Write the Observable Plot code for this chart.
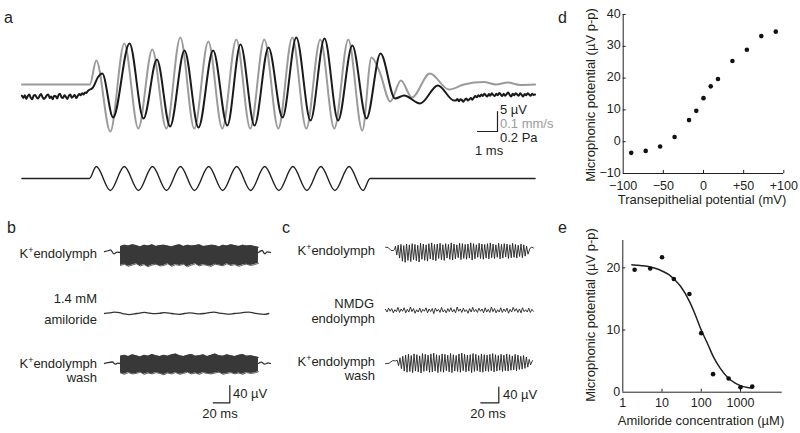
<!DOCTYPE html>
<html><head><meta charset="utf-8">
<script src="https://cdn.jsdelivr.net/npm/d3@7"></script>
<script src="https://cdn.jsdelivr.net/npm/@observablehq/plot@0.6"></script>
<style>
html,body{margin:0;padding:0;background:#fff;}
#fig{position:relative;width:800px;height:433px;overflow:hidden;font-family:"Liberation Sans",Arial,Helvetica,sans-serif;color:#231f20;}
#fig svg{position:absolute;left:0;top:0;overflow:visible;}
.t{position:absolute;white-space:nowrap;line-height:1;font-size:13px;}
.lt{transform:translateY(-50%);}
.rt{transform:translate(-100%,-50%);}
.ct{transform:translate(-50%,-50%);}
.rot{transform:translate(-50%,-50%) rotate(-90deg);}
.pl{font-size:16px;}
sup{font-size:9px;line-height:0;vertical-align:5px;}
</style></head><body><div id="fig"></div>
<script>
// ---------------- DATA ----------------
// Panel a: stimulus (Pa), stapes velocity (mm/s), microphonic (µV); time in ms
const aStimT = [0, 3.37, 3.72, 4.42, 5.12, 5.83, 6.53, 7.23, 7.93, 8.63, 9.34, 10.04, 10.74, 11.44, 12.14, 12.85, 13.55, 14.25, 14.95, 15.65, 16.36, 17.06, 17.41, 25.66];
const aStimPa = [0, 0, 0.12, -0.12, 0.12, -0.12, 0.12, -0.12, 0.12, -0.12, 0.12, -0.12, 0.12, -0.12, 0.12, -0.12, 0.12, -0.12, 0.12, -0.12, 0.12, -0.12, 0, 0];

const aVelT = [0, 3.40, 3.72, 4.42, 5.12, 5.82, 6.52, 7.22, 7.92, 8.62, 9.32, 10.02, 10.72, 11.42, 12.12, 12.82, 13.52, 14.22, 14.92, 15.62, 16.32, 17.02, 17.48, 17.88, 18.42, 18.95, 19.5, 20.4, 21.35, 22.1, 23.1, 23.7, 24.3, 24.9, 25.66];
const aVel = [0, 0, 0.12, -0.235, 0.205, -0.22, 0.175, -0.22, 0.235, -0.22, 0.215, -0.22, 0.225, -0.22, 0.225, -0.22, 0.235, -0.22, 0.225, -0.22, 0.225, -0.23, 0.135, 0.065, -0.085, 0.02, -0.065, 0.055, -0.025, 0.0, 0.012, 0.0, 0.01, -0.002, 0.0];

const aMicPre = [0.2,-0.4,0.3,-0.6,0.1,0.5,-0.3,-0.7,0.2,0.4,-0.2,-0.5,0.1,0.6,-0.1,-0.6,-0.3,0.3,0.5,-0.4,0.0,-0.7,0.2,0.1,-0.5,0.4,0.7,-0.2,-0.4,0.3,-0.1,-0.6,0.2,0.5,-0.3,0.0,0.4,-0.4,0.1,0.6,0.3,0.8,0.5,1.0,0.9,1.4];
const aMicT = [3.55, 3.8, 4.02, 4.56, 5.38, 6.08, 6.75, 7.41, 8.13, 8.83, 9.56, 10.27, 10.93, 11.63, 12.33, 13.03, 13.72, 14.43, 15.13, 15.81, 16.52, 17.23, 17.93, 18.66, 19.11, 19.91, 20.8, 21.61];
const aMicV = [2.2, 4.8, 5.75, -5.25, 13.25, -5.5, 9.25, -7.5, 11.5, -7.75, 11.5, -7.25, 13, -7.25, 12.25, -5.25, 14.75, -6, 14.5, -6, 12.75, -5.5, 10.75, -0.5, 0.25, -1.75, 2.75, -1];
const aMicPost = [-1.0,-0.6,-1.2,-0.7,-0.9,-1.3,-0.8,-0.5,-1.0,-0.7,-0.4,-0.8,-0.3,0.1,-0.2,0.3,0.0,0.5,0.1,0.7,0.3,0.0,0.6,0.2,0.8,0.4,0.1,0.7,0.3,0.9,0.5,0.1,0.7,0.2,0.6,1.0,0.4,0.0,0.7,0.3,0.8,0.5,0.2,0.8,0.4,0.0,0.6,0.3,0.8,0.5,0.2,0.7,0.4,0.5];

// Panel b (ms, µV)
const b1PreT = [0, 5.2, 7.2, 11.2, 15.3, 19.3];
const b1PreV = [2, 4.6, 6.2, -3, 0.7, 0];
const b1Up = [14,17,15,18,16,13,17,15,18,14,16,17,15,13,16,18,14,17,15,16,18,14,15,17,16,13,17,15,18,16,14,17,15,16,14,12];
const b1Dn = [30,27,32,29,26,31,28,33,29,27,31,30,26,32,28,30,27,33,29,26,31,28,30,32,27,29,31,26,30,28,32,29,27,30,28,25];
const b1PostT = [185.5, 190, 193, 196, 200];
const b1PostV = [0, 4.6, -3, 1.5, 0];
const b2V = [0,1.5,3,2,-1,-2.5,-1,1,2.5,1,-0.5,0.5,2,1,-1,-2,0,1.5,0.5,-1,0,2,3,1,-0.5,-1.5,0,1,2.5,3,1,-1,-2,0];
const b3PreT = [0, 4, 9.6, 13, 16, 19.3];
const b3PreV = [0, 2, 3.5, -1.5, 1, 0];
const b3Up = [17,19,16,20,18,15,19,17,21,18,16,19,17,20,22,18,16,19,21,17,18,20,16,19,22,18,17,20,18,16,19,21,17,18,16,14];
const b3Dn = [22,25,21,24,23,20,25,22,24,21,23,26,22,24,21,25,23,20,24,22,25,21,23,24,22,20,25,23,21,24,22,25,21,23,22,19];
const b3PostT = [185.5, 189, 193, 197, 200];
const b3PostV = [0, 3, -1.5, 1.5, 0];

// Panel c (ms, µV)
const c1PreT = [0, 3, 6, 8.5, 10];
const c1PreV = [6, 5, -2, -3, 0];
const c1Up = [8,11,13,10,14,12,15,13,11,16,14,12,15,17,13,14,16,12,15,13,17,14,12,16,15,13,14,17,15,12,16,14,13,15,17,14,12,16,13,15,14,12,16,13,11,14,12,9];
const c1Dn = [14,22,30,33,28,31,26,29,32,25,28,30,24,27,29,23,26,28,22,25,27,24,21,26,23,25,22,27,24,20,23,25,22,24,21,23,20,24,22,19,23,21,20,22,18,21,17,12];
const c1PostT = [160.5, 162.5, 164.4];
const c1PostV = [3, 6, 4];
const c2V = [3,-4,6,-2,5,-6,2,-3,8,-5,4,-2,7,-6,3,-4,9,-3,5,-7,2,-4,6,-5,3,-2,7,-6,4,-3,5,-8,6,-2,3,-5,8,-4,2,-6,5,-3,7,-4,3,-6,9,-2,4,-5,6,-3,2,-7,5,-4,8,-3,3,-5,6,-2,4,-6,7,-4,3,-5,9,-3,5,-6,2,-4,7,-5,4,-3,6,-7,3,-4,8,-2,5,-5,4,-6,7,-3,2,-4,6,-5,3,-2];
const c3PreT = [0, 4, 8, 11];
const c3PreV = [-3, -2, 5, 4];
const c3Up = [6,12,16,19,21,18,22,20,17,23,21,19,22,24,20,18,22,21,19,23,20,18,22,24,21,19,20,23,21,18,22,20,19,21,23,20,18,21,19,22,20,17,21,19,16,18,14,8];
const c3Dn = [8,16,22,25,23,26,22,24,27,23,21,25,24,22,26,23,25,21,24,26,22,23,25,21,24,22,26,23,21,24,25,22,23,21,24,22,20,23,21,22,20,19,21,18,17,15,12,6];
const c3PostT = [163.3];
const c3PostV = [5];

// Panel d
const dVte = [-90,-72,-54,-36,-18,-9,0,9,18,36,54,72,90];
const dMic = [-3.5,-2.9,-1.5,1.5,6.8,9.7,13.7,17.4,19.7,25.4,28.9,33.2,34.6];
const dXTicks = [-100,-50,0,50,100];
const dXTickLabels = ["\u2212100","\u221250","0","+50","+100"];
const dYTicks = [-10,0,10,20,30,40];
const dYTickLabels = ["\u221210","0","10","20","30","40"];

// Panel e
const eConc = [2,5,10,20,50,100,200,500,1000,2000];
const eMic = [19.7,19.9,21.7,18.2,15.8,9.5,2.9,2.2,0.8,0.9];
const eFitC = [1.7,2,3,5,7,10,15,20,30,50,70,100,150,200,300,500,700,1000,1500,2000];
const eFitV = [20.5,20.45,20.35,20.15,19.9,19.5,18.9,18.2,17.0,14.6,12.5,10.0,7.6,5.8,3.9,2.2,1.55,1.05,0.75,0.65];
const eXTicks = [1,10,100,1000];
const eXTickLabels = ["1","10","100","1000"];
const eYTicks = [0,10,20];
const eYTickLabels = ["0","10","20"];

// ---------------- DRAWING ----------------
const FONT = '"Liberation Sans", Arial, Helvetica, sans-serif';
const INK = "#231f20";
const fig = document.getElementById("fig");
const STYLE = {background:"transparent", overflow:"visible", fontFamily:FONT};

function frame(x0, kx, base, ky, marks) {
  return Plot.plot({
    width:800, height:433, marginLeft:0, marginRight:0, marginTop:0, marginBottom:0,
    x:{domain:[-x0/kx, (800-x0)/kx], axis:null},
    y:{domain:[-(433-base)/ky, base/ky], axis:null},
    style:STYLE, marks
  });
}
const zip = (T, V) => T.map((t, i) => ({t, v: V[i]}));
const even = (V, t0, t1) => V.map((v, i) => ({t: t0 + i*(t1-t0)/(V.length-1), v}));
function zigzag(up, dn, t0, t1) {
  const n = up.length + dn.length, out = [];
  for (let i = 0; i < n; i++) {
    const v = i % 2 === 0 ? up[i/2] : -dn[(i-1)/2];
    out.push({t: t0 + i*(t1-t0)/(n-1), v});
  }
  return out;
}
function bar(t, v, dt, dv) {
  return Plot.line([{t:t-dt, v}, {t, v}, {t, v:v+dv}], {x:"t", y:"v", stroke:INK, strokeWidth:1.2});
}

// Panel a
{
  const stim = zip(aStimT, aStimPa).map(d => ({t:d.t, v:-20.5 + 25*d.v}));
  const vel = zip(aVelT, aVel).map(d => ({t:d.t, v:3 + 50*d.v}));
  const mic = [...even(aMicPre, 0, 3.3), ...zip(aMicT, aMicV), ...even(aMicPost, 21.7, 25.66)];
  fig.append(frame(21.4, 20, 96, 4, [
    Plot.line(vel, {x:"t", y:"v", curve:"monotone-x", stroke:"#9b9b9b", strokeWidth:2}),
    Plot.line(mic, {x:"t", y:"v", curve:"monotone-x", stroke:"#1a1a1a", strokeWidth:2}),
    Plot.line(stim, {x:"t", y:"v", curve:"monotone-x", stroke:"#222", strokeWidth:1.4}),
    bar(23.78, -8.75, 1, 5)
  ]));
}

// Panel b
function blockTrace(base, preT, preV, up, dn, postT, postV, extra=[]) {
  const blk = up.map((u, i) => ({t: 19.3 + i*(185.5-19.3)/(up.length-1), up:u, dn:-dn[i]}));
  return frame(104, 0.83, base, 0.4325, [
    Plot.areaY(blk, {x:"t", y1:"dn", y2:"up", fill:"#383838"}),
    Plot.line(blk, {x:"t", y:"up", stroke:"#383838", strokeWidth:0.8}),
    Plot.line(blk, {x:"t", y:"dn", stroke:"#383838", strokeWidth:0.8}),
    Plot.line(zip(preT, preV), {x:"t", y:"v", curve:"monotone-x", stroke:"#333", strokeWidth:1.3}),
    Plot.line(zip(postT, postV), {x:"t", y:"v", curve:"monotone-x", stroke:"#333", strokeWidth:1.3}),
    ...extra
  ]);
}
fig.append(blockTrace(252, b1PreT, b1PreV, b1Up, b1Dn, b1PostT, b1PostV));
fig.append(frame(104, 0.83, 313, 0.4325, [
  Plot.line(even(b2V, 0, 198), {x:"t", y:"v", curve:"monotone-x", stroke:"#333", strokeWidth:1.3})
]));
fig.append(blockTrace(363, b3PreT, b3PreV, b3Up, b3Dn, b3PostT, b3PostV, [bar(151, -90.9, 20, 40)]));

// Panel c
fig.append(frame(385, 0.9, 249, 0.39, [
  Plot.line([...zip(c1PreT, c1PreV), ...zigzag(c1Up, c1Dn, 11, 158.3), ...zip(c1PostT, c1PostV)],
    {x:"t", y:"v", stroke:"#222", strokeWidth:0.9})
]));
fig.append(frame(385, 0.9, 310, 0.39, [
  Plot.line(even(c2V, 0, 164.4), {x:"t", y:"v", stroke:"#222", strokeWidth:0.9})
]));
fig.append(frame(385, 0.9, 362, 0.39, [
  Plot.line([...zip(c3PreT, c3PreV), ...zigzag(c3Up, c3Dn, 13, 161.2), ...zip(c3PostT, c3PostV)],
    {x:"t", y:"v", stroke:"#222", strokeWidth:0.9}),
  bar(125.9, -103.3, 20, 40)
]));

// Panel d
{
  const pts = dVte.map((x, i) => ({x, y: dMic[i]}));
  const xr = dXTicks.map((v, i) => ({v, label: dXTickLabels[i]}));
  const yr = dYTicks.map((v, i) => ({v, label: dYTickLabels[i]}));
  fig.append(Plot.plot({
    width:800, height:433, marginLeft:622.7, marginRight:16.7, marginTop:14, marginBottom:260,
    x:{domain:[-100,100], axis:null}, y:{domain:[-10,40], axis:null}, style:STYLE,
    marks:[
      Plot.ruleX([-100], {stroke:INK}),
      Plot.ruleY([-10], {stroke:INK}),
      Plot.ruleX(dXTicks.slice(1), {x:d=>d, y1:()=>-10, y2:()=>-9.05, stroke:INK}),
      Plot.ruleY(dYTicks.slice(1), {y:d=>d, x1:()=>-100, x2:()=>-96.3, stroke:INK}),
      Plot.text(xr, {x:"v", y:()=>-10, text:"label", dy:12.5, lineAnchor:"middle", fontSize:12.5, fill:INK}),
      Plot.text(yr, {x:()=>-100, y:"v", text:"label", dx:-2.5, dy:-1, textAnchor:"end", lineAnchor:"middle", fontSize:12.5, fill:INK}),
      Plot.dot(pts, {x:"x", y:"y", r:2.3, fill:"#111", stroke:"none"})
    ]
  }));
}

// Panel e
{
  const pts = eConc.map((x, i) => ({x, y: eMic[i]}));
  const fit = eFitC.map((x, i) => ({x, y: eFitV[i]}));
  const xr = eXTicks.map((v, i) => ({v, label: eXTickLabels[i]}));
  const yr = eYTicks.map((v, i) => ({v, label: eYTickLabels[i]}));
  fig.append(Plot.plot({
    width:800, height:433, marginLeft:622.3, marginRight:18.3, marginTop:240, marginBottom:41.3,
    x:{type:"log", domain:[1, 11600], axis:null}, y:{domain:[0, 24.4], axis:null}, style:STYLE,
    marks:[
      Plot.ruleX([1], {stroke:INK}),
      Plot.ruleY([0], {stroke:INK}),
      Plot.ruleX(eXTicks.slice(1), {x:d=>d, y1:()=>0, y2:()=>0.47, stroke:INK}),
      Plot.ruleY(eYTicks.slice(1), {y:d=>d, x1:()=>1, x2:()=>1.19, stroke:INK}),
      Plot.text(xr, {x:"v", y:()=>0, text:"label", dy:11, lineAnchor:"middle", fontSize:12.5, fill:INK}),
      Plot.text(yr, {x:()=>1, y:"v", text:"label", dx:-2.5, textAnchor:"end", lineAnchor:"middle", fontSize:12.5, fill:INK}),
      Plot.line(fit, {x:"x", y:"y", curve:"monotone-x", stroke:INK, strokeWidth:1.5}),
      Plot.dot(pts, {x:"x", y:"y", r:2.3, fill:"#111", stroke:"none"})
    ]
  }));
}

// ---------------- TEXT ----------------
function label(html, x, y, cls, style="") {
  const d = document.createElement("div");
  d.className = "t " + cls;
  d.style.cssText = `left:${x}px;top:${y}px;${style}`;
  d.innerHTML = html;
  fig.append(d);
}
const Kplus = "K<sup>+</sup>endolymph";
label("a", 4, 18, "lt pl");
label("5 \u00b5V", 500, 108.5, "lt");
label("0.1 mm/s", 500, 123, "lt", "color:#9b9b9b");
label("0.2 Pa", 500, 137, "lt");
label("1 ms", 475, 150, "lt");

label("b", 7, 228, "lt pl");
label(Kplus, 97, 253, "rt");
label("1.4 mM", 97, 298, "rt");
label("amiloride", 97, 319, "rt");
label(Kplus, 97, 363, "rt");
label("wash", 97, 377, "rt");
label("40 \u00b5V", 233, 393, "lt");
label("20 ms", 220, 413, "ct");

label("c", 282, 228, "lt pl");
label(Kplus, 375, 250, "rt");
label("NMDG", 374, 303, "rt");
label("endolymph", 375, 318, "rt");
label(Kplus, 375, 361, "rt");
label("wash", 375, 375, "rt");
label("40 \u00b5V", 503, 394, "lt");
label("20 ms", 488, 413, "ct");

label("d", 558, 18, "lt pl");
label("Microphonic potential (\u00b5V p-p)", 590, 95, "rot");
label("Transepithelial potential (mV)", 702, 199, "ct");

label("e", 558, 228, "lt pl");
label("Microphonic potential (\u00b5V p-p)", 590, 315, "rot");
label("Amiloride concentration (\u00b5M)", 701, 420, "ct");
</script></body></html>
